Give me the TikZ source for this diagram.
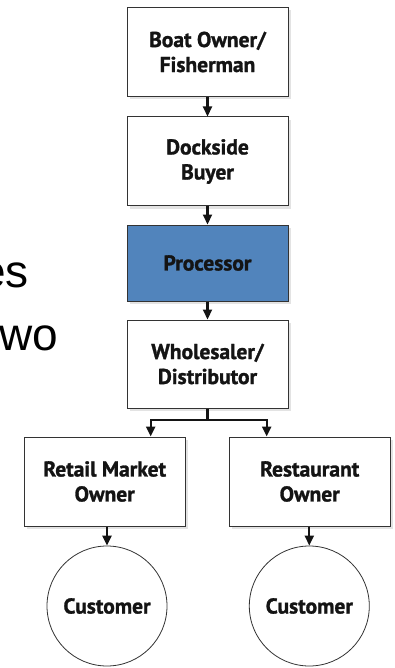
\documentclass[tikz,border=0pt]{standalone}
\usepackage{fontspec}
\setmainfont{PT Sans}[BoldFeatures={FakeBold=1.3}]
\newfontfamily\bigsans{Liberation Sans}
\usetikzlibrary{arrows.meta,shadows}
\definecolor{procblue}{RGB}{81,132,188}
\definecolor{edge}{RGB}{51,51,51}
\definecolor{ink}{RGB}{20,20,20}
\tikzset{
  flowbox/.style={draw=edge, line width=1pt, fill=white, minimum width=161pt,
    align=center, inner sep=0pt, font=\bfseries\fontsize{21.5}{25}\selectfont, text=ink,
    drop shadow={opacity=0.22, shadow xshift=3pt, shadow yshift=-3pt}},
  custcircle/.style={draw=edge, line width=0.8pt, circle, minimum size=120pt, inner sep=0pt,
    font=\bfseries\fontsize{21.5}{25}\selectfont, text=ink},
  flowline/.style={draw=ink, line width=2.2pt},
  flowarrow/.style={flowline, -{Triangle[length=10pt,width=9pt]}},
  slidetext/.style={font=\bigsans\fontsize{46}{50}\selectfont, inner sep=0pt, text=black}
}
\begin{document}
\begin{tikzpicture}[x=1pt,y=-1pt]
\useasboundingbox (0,0) rectangle (394,668);
\node[slidetext, anchor=base east] (es) at (29,287) {es};
\node[slidetext, anchor=base west] (wo) at (-1,350) {wo};
\node[flowbox, minimum height=89pt] (b1) at (207.5,52) {Boat Owner/\\Fisherman};
\node[flowbox, minimum height=89pt] (b2) at (207.5,161.5) {Dockside\\Buyer};
\node[flowbox, minimum height=76pt, fill=procblue] (b3) at (207.5,263) {Processor};
\node[flowbox, minimum height=88pt] (b4) at (207.5,364) {Wholesaler/\\Distributor};
\node[flowbox, minimum height=89pt] (b5) at (104.7,481.5) {Retail Market\\Owner};
\node[flowbox, minimum height=89pt] (b6) at (309.7,481.5) {Restaurant\\Owner};
\node[custcircle] (c1) at (107,606) {Customer};
\node[custcircle] (c2) at (309.3,606) {Customer};
\coordinate (j) at (207.5,420);
\draw[flowarrow] (b1.south) -- (b2.north);
\draw[flowarrow] (b2.south) -- (b3.north);
\draw[flowarrow] (b3.south) -- (b4.north);
\draw[flowline] (b4.south) -- (j);
\draw[flowarrow] (j) -| ([xshift=46pt]b5.north);
\draw[flowarrow] (j) -| ([xshift=-43pt]b6.north);
\draw[flowarrow] (c1.north |- b5.south) -- (c1.north);
\draw[flowarrow] (c2.north |- b6.south) -- (c2.north);
\end{tikzpicture}
\end{document}
